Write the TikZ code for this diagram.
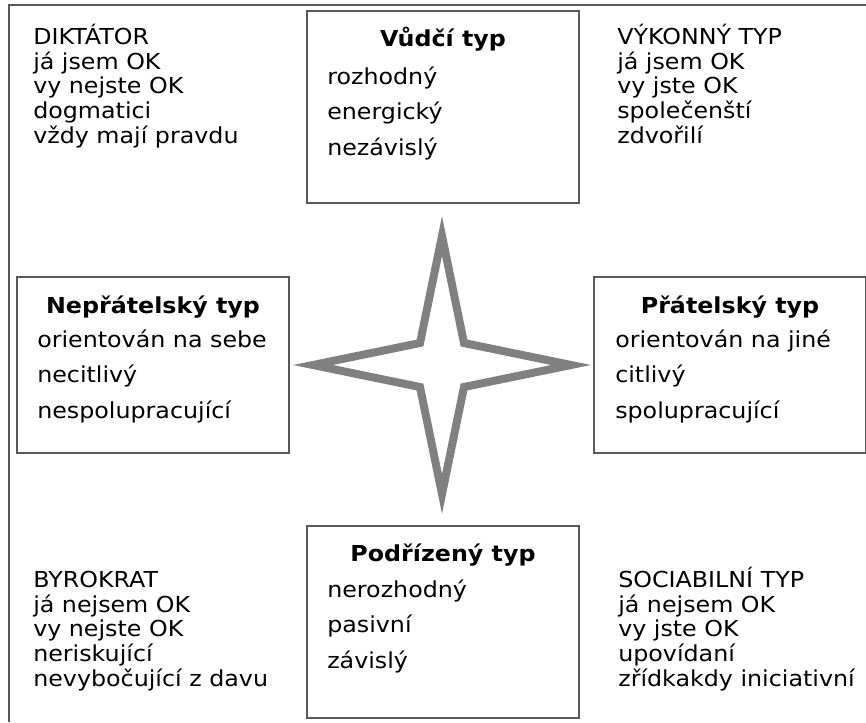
\documentclass[tikz,border=0pt]{standalone}
\usepackage{fontspec}
\setmainfont{DejaVu Sans}[FakeStretch=1.08]
\usetikzlibrary{positioning}

\begin{document}
\begin{tikzpicture}[x=0.75pt, y=-0.75pt,
    typbox/.style={rectangle, draw=black!65, line width=1.1pt, minimum width=204pt,
                   minimum height=#1, inner sep=0pt},
    title/.style={font=\fontsize{16.5}{20}\selectfont\bfseries, anchor=base, inner sep=0pt},
    items/.style={font=\fontsize{16.5}{26.5}\selectfont, align=left, anchor=base west, inner sep=0pt},
    corner/.style={font=\fontsize{16.5}{18.4}\selectfont, align=left, anchor=base west, inner sep=0pt},
]
\useasboundingbox (0,0) rectangle (866,722);
\draw[black!65, line width=1.1pt] (866,5) -- (9,5) -- (9,722);

\node[typbox=144pt] (lead)     at (443,107) {};
\node[typbox=132pt] (hostile)  at (153,365) {};
\node[typbox=132pt] (friendly) at (730,365) {};
\node[typbox=144pt] (subord)   at (443,622) {};

\node[title] (leadT)     at (443,46)  {Vůdčí typ};
\node[title] (hostileT)  at (153,313) {Nepřátelský typ};
\node[title] (friendlyT) at (730,313) {Přátelský typ};
\node[title] (subordT)   at (443,561) {Podřízený typ};

\node[items] (leadI)     at (327,155) {rozhodný\\energický\\nezávislý};
\node[items] (hostileI)  at (37,418)  {orientován na sebe\\necitlivý\\nespolupracující};
\node[items] (friendlyI) at (615,418) {orientován na jiné\\citlivý\\spolupracující};
\node[items] (subordI)   at (327,668) {nerozhodný\\pasivní\\závislý};

\node[corner] (dictator) at (33,143)   {DIKTÁTOR\\já jsem OK\\vy nejste OK\\dogmatici\\vždy mají pravdu};
\node[corner] (executive) at (617,143) {VÝKONNÝ TYP\\já jsem OK\\vy jste OK\\společenští\\zdvořilí};
\node[corner] (bureaucrat) at (33,686) {BYROKRAT\\já nejsem OK\\vy nejste OK\\neriskující\\nevybočující z davu};
\node[corner] (sociable) at (618,686)  {SOCIABILNÍ TYP\\já nejsem OK\\vy jste OK\\upovídaní\\zřídkakdy iniciativní};

\coordinate (centre) at (442,365);
\draw[black!50, line width=6pt, shift={(centre)}]
    (0,-129) -- (22,-22) -- (129,0) -- (22,22) -- (0,129) -- (-22,22) -- (-129,0) -- (-22,-22) -- cycle;
\end{tikzpicture}
\end{document}
